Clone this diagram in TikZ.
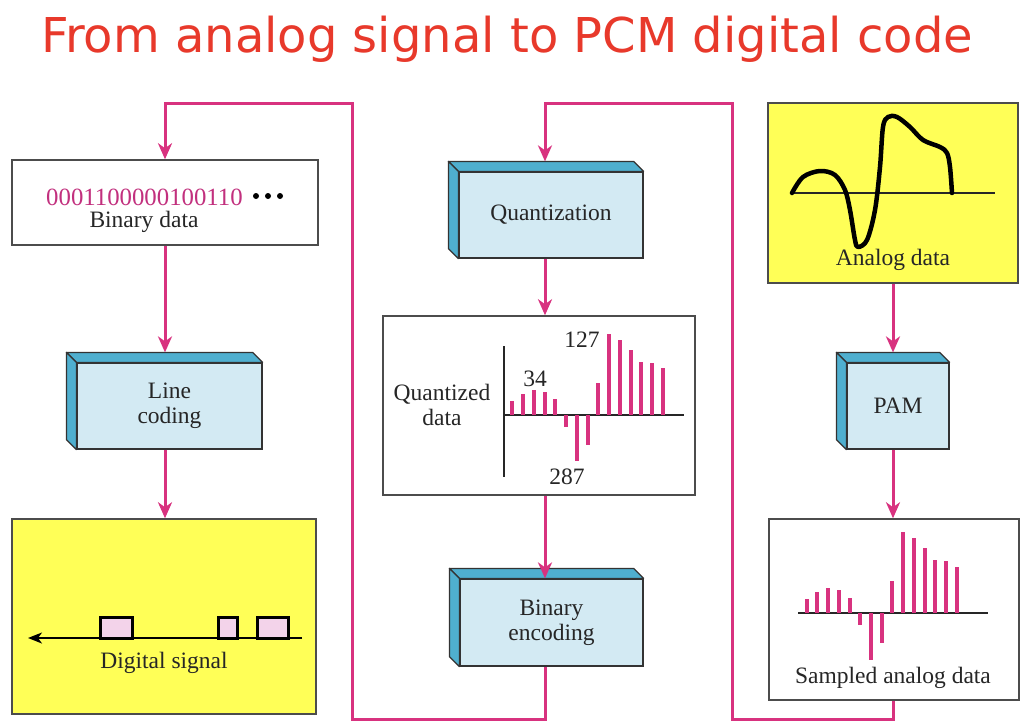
\documentclass[tikz,border=0pt]{standalone}
\usepackage{fontspec}
\setmainfont{Liberation Serif}
\newfontfamily\titlefont{DejaVu Sans}
\usetikzlibrary{arrows.meta,calc}
\definecolor{mag}{HTML}{D8327F}
\definecolor{digitmag}{HTML}{C2307E}
\definecolor{yel}{HTML}{FFFF57}
\definecolor{frontblue}{HTML}{D3EAF3}
\definecolor{sideblue}{HTML}{4FAFCF}
\definecolor{pulsepink}{HTML}{F3D3EA}
\definecolor{titlered}{HTML}{E8392B}
\definecolor{txt}{HTML}{262626}
\newcommand\diafont{\fontsize{23.5}{24.5}\selectfont}
\newcommand\facesof[1]{%
  \filldraw[face] (#1.north west) -- ++(-10,-10) -- ($(#1.north east)+(-10,-10)$) -- (#1.north east) -- cycle;
  \filldraw[face] (#1.north west) -- ++(-10,-10) -- ($(#1.south west)+(-10,-10)$) -- (#1.south west) -- cycle;
}
\begin{document}
\begin{tikzpicture}[x=1pt,y=-1pt,
  conn/.style={draw=mag, line width=3pt, line join=miter, -{Stealth[length=16pt,width=14pt,inset=5pt]}},
  front/.style={draw=black!80, line width=1.2pt, fill=frontblue, font=\diafont, text=txt, align=center, inner sep=0pt},
  face/.style={fill=sideblue, draw=black!80, line width=1.2pt, line join=round},
  box/.style={draw=black!70, line width=1.5pt, inner sep=0pt},
  lbl/.style={font=\diafont, text=txt, inner sep=0pt},
  bar/.style={draw=mag, line width=4pt},
  axis/.style={draw=black!85, line width=1.6pt},
  pulse/.style={draw=black, line width=3pt, fill=pulsepink},
]
\useasboundingbox (0,0) rectangle (1028,728);
\fill[white] (0,0) rectangle (1028,728);

% title
\node[font={\titlefont\fontsize{48}{52}\selectfont}, text=titlered, anchor=base, inner sep=0pt] (title) at (507,52) {From analog signal to PCM digital code};

% column coordinates
\coordinate (lx) at (165,0);
\coordinate (mx) at (545,0);
\coordinate (rx) at (893,0);

% ---------- left column ----------
\node[box, fill=white, minimum width=306pt, minimum height=85pt] (bd) at (165,202.5) {};
\node[lbl, font=\fontsize{24.8}{26}\selectfont, text=digitmag, anchor=base west] (bits) at (46,205) {0001100000100110};
\fill[black] (256,196) circle (3pt) (268,196) circle (3pt) (280,196) circle (3pt);
\node[lbl, anchor=base] (bdl) at (144,227) {Binary data};

\node[front, minimum width=185pt, minimum height=86pt] (lc) at (169.5,406) {Line\\coding};
\facesof{lc}
\coordinate (lcT) at ($(lc.north)+(-5,-10)$);

\node[box, fill=yel, minimum width=304pt, minimum height=195pt] (ds) at (164,616.5) {};
\coordinate (dsR) at (302,638);
\coordinate (dsL) at (28,638);
\draw[draw=black, line width=1.6pt, -{Stealth[length=14pt,width=11pt,inset=4pt]}] (dsR) -- (dsL);
\draw[pulse] (100,638) rectangle (132,617);
\draw[pulse] (218,638) rectangle (237,617);
\draw[pulse] (257,638) rectangle (288,617);
\node[lbl, anchor=base] (dsl) at (164,668) {Digital signal};

% ---------- middle column ----------
\node[front, minimum width=184pt, minimum height=86pt] (qz) at (551,215) {Quantization};
\facesof{qz}
\coordinate (qzT) at ($(qz.north)+(-5,-10)$);

\node[box, fill=white, minimum width=312pt, minimum height=179pt] (qd) at (539,405.5) {};
\draw[axis] (504,346) -- (504,477);
\draw[axis] (504,415) -- (684,415);
\foreach \h [count=\i from 0] in {14.3,21,25,23,15.7,-11.7,-45.7,-29.7,32.3,81,75,65,53.3,51.7,46.7}
  \draw[bar] (512.3+10.75*\i,415) -- ++(0,-\h);
\node[lbl] (n127) at (582,340) {127};
\node[lbl] (n34) at (535,379) {34};
\node[lbl] (n287) at (567,477) {287};
\node[lbl, align=center] (qdl) at (442,405) {Quantized\\data};

\node[front, minimum width=183pt, minimum height=87pt] (be) at (551.5,622.5) {Binary\\encoding};
\facesof{be}

% ---------- right column ----------
\node[box, fill=yel, minimum width=250pt, minimum height=180pt] (ad) at (893,193) {};
\draw[draw=black!85, line width=2pt] (792,193) -- (995,193);
\draw[line width=4.5pt, line cap=round, line join=round] plot[smooth, tension=0.55] coordinates {
  (792,193) (803,177) (820,171) (835,175) (845,190) (850,210) (855,240) (858,247)
  (867,240) (875,210) (880,167) (883,127) (888,117) (897,117) (910,127) (923,140)
  (940,147) (947,153) (950,167) (952,193)};
\node[lbl, anchor=base] (adl) at (893,265) {Analog data};

\node[front, minimum width=102pt, minimum height=86pt] (pam) at (898,406) {PAM};
\facesof{pam}
\coordinate (pamT) at ($(pam.north)+(-5,-10)$);

\node[box, fill=white, minimum width=250pt, minimum height=181pt] (sa) at (894,609.5) {};
\draw[axis] (798,613) -- (988,613);
\foreach \h [count=\i from 0] in {14,20.7,25,22.7,15,-12.3,-46.7,-30,31.7,80.7,75,65,53.3,51.7,46}
  \draw[bar] (806.7+10.71*\i,613) -- ++(0,-\h);
\node[lbl, anchor=base] (sal) at (893,683) {Sampled analog data};

% ---------- connectors ----------
\draw[conn] (lx |- bd.south) -- (lx |- lcT);
\draw[conn] (lx |- lc.south) -- (lx |- ds.north);
\draw[conn] (mx |- qz.south) -- (mx |- qd.north);
\draw[conn] (mx |- qd.south) -- (mx |- be.north);
\draw[conn] (rx |- ad.south) -- (rx |- pamT);
\draw[conn] (rx |- pam.south) -- (rx |- sa.north);

\coordinate (b1) at (352,719);
\coordinate (b2) at (352,103);
\draw[conn] (mx |- be.south) |- (b1) -- (b2) -| (lx |- bd.north);
\coordinate (r1) at (732,719);
\coordinate (r2) at (732,103);
\draw[conn] (rx |- sa.south) |- (r1) -- (r2) -| (mx |- qzT);
\end{tikzpicture}
\end{document}
